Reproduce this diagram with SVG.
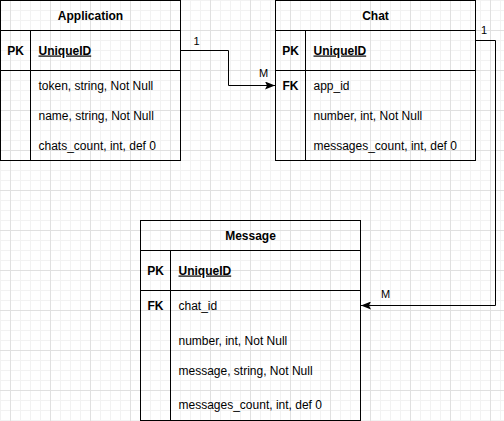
<svg xmlns="http://www.w3.org/2000/svg" width="504" height="421" viewBox="0 0 504 421">
<style>
.box{fill:none;stroke:#000;stroke-width:1}
.ln{stroke:#000;stroke-width:1;fill:none}
text{font-family:"Liberation Sans",Arial,sans-serif;font-size:12px;fill:#000}
.t{font-weight:bold;text-anchor:middle}
.k{font-weight:bold;text-anchor:middle}
.u{font-weight:bold;text-decoration:underline}
.lbl{font-size:11px;text-anchor:middle}
</style>
<defs>
<pattern id="minor" width="10" height="10" patternUnits="userSpaceOnUse">
<rect x="0" y="0" width="10" height="1" fill="#f2f2f2"/>
<rect x="0" y="0" width="1" height="10" fill="#f2f2f2"/>
</pattern>
<pattern id="major" x="10" y="30" width="40" height="40" patternUnits="userSpaceOnUse">
<rect x="0" y="0" width="40" height="1" fill="#e0e0e0"/>
<rect x="0" y="0" width="1" height="40" fill="#e0e0e0"/>
</pattern>
<marker id="arr" viewBox="0 0 10 8" refX="10" refY="4" markerWidth="10" markerHeight="8" markerUnits="userSpaceOnUse" orient="auto">
<path d="M0,0 L10,4 L0,8 L2,4 Z" fill="#000"/>
</marker>
</defs>
<rect width="504" height="421" fill="#fff"/>
<rect width="504" height="421" fill="url(#minor)"/>
<rect width="504" height="421" fill="url(#major)"/>

<g id="connectors">
<path class="ln" d="M180.5,50.5 H228.5 V85.5 H275" marker-end="url(#arr)"/>
<path class="ln" d="M475.5,40.5 H495.5 V305.5 H361" marker-end="url(#arr)"/>
<text class="lbl" x="196.5" y="45">1</text>
<text class="lbl" x="263.5" y="77">M</text>
<text class="lbl" x="484" y="34">1</text>
<text class="lbl" x="385.5" y="298">M</text>
</g>

<g id="application">
<rect class="box" x="0.5" y="0.5" width="180" height="160"/>
<path class="ln" d="M0.5,30.5 H180.5 M0.5,70.5 H180.5 M30.5,30.5 V160.5"/>
<text class="t" x="90.5" y="19.5">Application</text>
<text class="k" x="15.5" y="54.5">PK</text>
<text class="u" x="38.5" y="54.5">UniqueID</text>
<text x="38.5" y="89.5">token, string, Not Null</text>
<text x="38.5" y="119.5">name, string, Not Null</text>
<text x="38.5" y="149.5">chats_count, int, def 0</text>
</g>

<g id="chat">
<rect class="box" x="275.5" y="0.5" width="200" height="160"/>
<path class="ln" d="M275.5,30.5 H475.5 M275.5,70.5 H475.5 M305.5,30.5 V160.5"/>
<text class="t" x="375.5" y="19.5">Chat</text>
<text class="k" x="290.5" y="54.5">PK</text>
<text class="u" x="313.5" y="54.5">UniqueID</text>
<text class="k" x="290.5" y="89.5">FK</text>
<text x="313.5" y="89.5">app_id</text>
<text x="313.5" y="119.5">number, int, Not Null</text>
<text x="313.5" y="149.5">messages_count, int, def 0</text>
</g>

<g id="message">
<rect class="box" x="140.5" y="220.5" width="220" height="200"/>
<path class="ln" d="M140.5,250.5 H360.5 M140.5,290.5 H360.5 M170.5,250.5 V420.5"/>
<text class="t" x="250.5" y="239.5">Message</text>
<text class="k" x="155.5" y="274.5">PK</text>
<text class="u" x="178.5" y="274.5">UniqueID</text>
<text class="k" x="155.5" y="309.5">FK</text>
<text x="178.5" y="309.5">chat_id</text>
<text x="178.5" y="345">number, int, Not Null</text>
<text x="178.5" y="374.5">message, string, Not Null</text>
<text x="178.5" y="408.5">messages_count, int, def 0</text>
</g>
</svg>
